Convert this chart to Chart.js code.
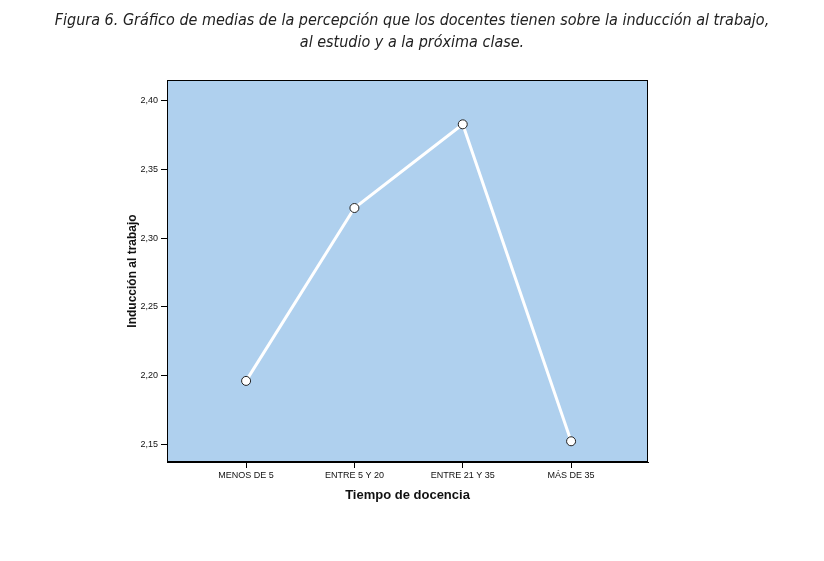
<!DOCTYPE html>
<html>
<head>
<meta charset="utf-8">
<script src="https://cdn.jsdelivr.net/npm/chart.js@4"></script>
<style>
  body { margin: 0; background: #fff; }
  #title { position: absolute; left: 0; top: 9px; width: 824px; text-align: center;
    font: italic 16px "DejaVu Sans Condensed", "Liberation Sans"; color: #222; line-height: 22px; }
  #wrap { position: absolute; left: 0; top: 0; width: 824px; height: 561px; }
</style>
</head>
<body>
<div id="wrap"><canvas id="myChart" width="824" height="561"></canvas></div>
<div id="title">Figura 6. Gráfico de medias de la percepción que los docentes tienen sobre la inducción al trabajo,<br>al estudio y a la próxima clase.</div>
<script>
const categories = ["MENOS DE 5", "ENTRE 5 Y 20", "ENTRE 21 Y 35", "MÁS DE 35"];
const meanValues = [2.196, 2.322, 2.383, 2.152];
const yTicks = [2.15, 2.20, 2.25, 2.30, 2.35, 2.40];

const plotBackground = {
  id: "plotBackground",
  beforeDraw(chart) {
    const { ctx, chartArea: a } = chart;
    ctx.save();
    ctx.fillStyle = "#afd0ee";
    ctx.fillRect(a.left, a.top, a.right - a.left, a.bottom - a.top);
    ctx.strokeStyle = "#000";
    ctx.lineWidth = 1;
    ctx.strokeRect(a.left + 0.5, a.top + 0.5, a.right - a.left - 1, a.bottom - a.top - 1);
    ctx.restore();
  }
};

new Chart("myChart", {
  type: "line",
  data: {
    datasets: [{
      data: meanValues.map((v, i) => ({ x: i, y: v })),
      borderColor: "#ffffff",
      borderWidth: 3,
      pointBackgroundColor: "#ffffff",
      pointBorderColor: "#222",
      pointBorderWidth: 1,
      pointRadius: 4.5,
      tension: 0
    }]
  },
  plugins: [plotBackground],
  options: {
    responsive: false,
    animation: false,
    layout: { padding: { left: 125, right: 176, top: 80, bottom: 54 } },
    plugins: { legend: { display: false }, tooltip: { enabled: false } },
    scales: {
      x: {
        type: "linear", min: -0.73, max: 3.71,
        afterFit(s) { s.height = 45; },
        afterBuildTicks(s) { s.ticks = categories.map((c, i) => ({ value: i })); },
        ticks: { callback: v => categories[v], color: "#111", font: { family: "Liberation Sans", size: 9 }, padding: 2, maxRotation: 0 },
        grid: { drawOnChartArea: false, tickLength: 6, color: "#000" },
        border: { color: "#000" },
        title: { display: true, text: "Tiempo de docencia", color: "#111", font: { family: "Liberation Sans", size: 13, weight: "bold" }, padding: { top: 2 } }
      },
      y: {
        min: 2.1369, max: 2.4153,
        afterFit(s) { s.width = 42; },
        afterBuildTicks(s) { s.ticks = yTicks.map(v => ({ value: v })); },
        ticks: { callback: v => v.toFixed(2).replace(".", ","), color: "#111", font: { family: "Liberation Sans", size: 9 }, padding: 3 },
        grid: { drawOnChartArea: false, tickLength: 6, color: "#000" },
        border: { color: "#000" },
        title: { display: true, text: "Inducción al trabajo", color: "#111", font: { family: "Liberation Sans", size: 12, weight: "bold" }, padding: 0 }
      }
    }
  }
});
</script>
</body>
</html>
